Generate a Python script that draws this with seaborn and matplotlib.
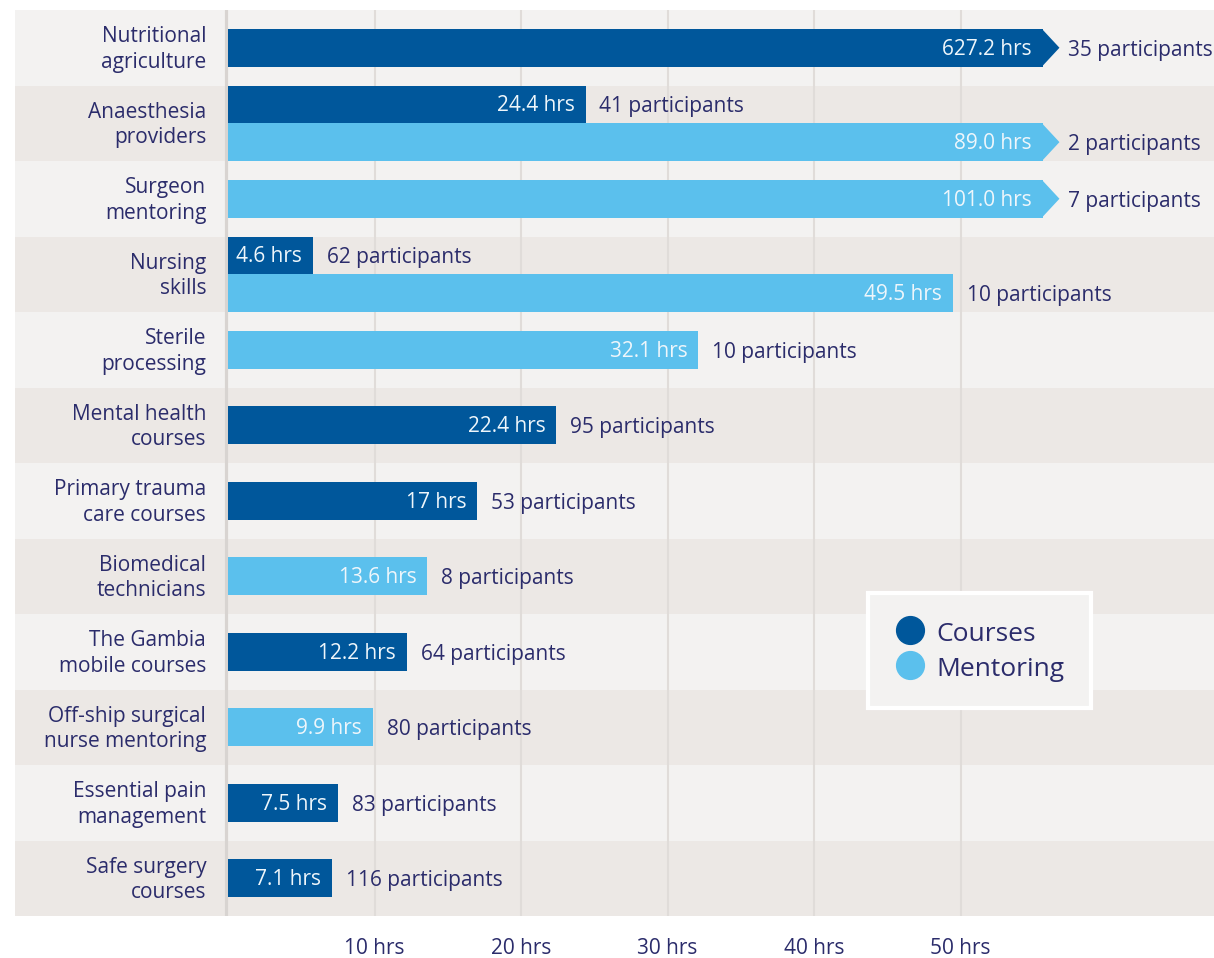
import matplotlib
matplotlib.use("Agg")
import matplotlib.pyplot as plt
import seaborn as sns
import pandas as pd
from matplotlib.patches import Polygon
from matplotlib.lines import Line2D

# ---------------- data ----------------
categories = ["Nutritional\nagriculture", "Anaesthesia\nproviders", "Surgeon\nmentoring",
              "Nursing\nskills", "Sterile\nprocessing", "Mental health\ncourses",
              "Primary trauma\ncare courses", "Biomedical\ntechnicians",
              "The Gambia\nmobile courses", "Off-ship surgical\nnurse mentoring",
              "Essential pain\nmanagement", "Safe surgery\ncourses"]
course_hours = ["627.2", "24.4", None, "4.6", None, "22.4", "17", None, "12.2", None, "7.5", "7.1"]
course_participants = [35, 41, None, 62, None, 95, 53, None, 64, None, 83, 116]
mentoring_hours = [None, "89.0", "101.0", "49.5", "32.1", None, None, "13.6", None, "9.9", None, None]
mentoring_participants = [None, 2, 7, 10, 10, None, None, 8, None, 80, None, None]
series_names = ["Courses", "Mentoring"]
tick_values = [10, 20, 30, 40, 50]
tick_labels = ["10 hrs", "20 hrs", "30 hrs", "40 hrs", "50 hrs"]

# ---------------- style ----------------
DARK = "#00579b"
LIGHT = "#5bc0ed"
NAVY = "#2b2c6b"
BG1 = "#f3f2f1"
BG2 = "#ece8e5"
GRID = "#e0dcd9"
CAP = 55.6        # axis cut-off for very long bars
ARROW = 1.15      # arrow head length (hrs)
MIN_W = 5.8       # minimum drawn width so label fits
XMIN, XMAX = -14.55, 67.3
FS = 15

rows = []
for i, cat in enumerate(categories):
    for name, hrs, parts in ((series_names[0], course_hours[i], course_participants[i]),
                             (series_names[1], mentoring_hours[i], mentoring_participants[i])):
        if hrs is None:
            continue
        v = float(hrs)
        rows.append(dict(category=cat, idx=i, series=name, hours=v, label=hrs,
                         participants=parts, display=max(min(v, CAP), MIN_W),
                         truncated=v > CAP))
df = pd.DataFrame(rows)
counts = df.groupby("category")["series"].transform("count")
df["double"] = counts > 1

sns.set_theme(style="white")
plt.rcParams["font.family"] = ["Open Sans", "DejaVu Sans"]

fig = plt.figure(figsize=(12.14, 9.58), dpi=100)
W, H = 1214, 958
ax = fig.add_axes([15 / W, 1 - 916 / H, 1199 / W, 906 / H])

palette = {series_names[0]: DARK, series_names[1]: LIGHT}
single = df[~df["double"]]
double = df[df["double"]]
sns.barplot(data=single, y="category", x="display", hue="series", hue_order=series_names,
            order=categories, palette=palette, dodge=False, width=0.5, orient="y",
            saturation=1, legend=False, ax=ax, zorder=3, errorbar=None, linewidth=0)
sns.barplot(data=double, y="category", x="display", hue="series", hue_order=series_names,
            order=categories, palette=palette, dodge=True, width=1.0, orient="y",
            saturation=1, legend=False, ax=ax, zorder=3, errorbar=None, linewidth=0)

ax.set_xlim(XMIN, XMAX)
ax.set_ylim(len(categories) - 0.5, -0.5)
ax.set_yticks([])
ax.set_ylabel("")
ax.set_xlabel("")
for s in ax.spines.values():
    s.set_visible(False)

# row bands
for i in range(len(categories)):
    ax.axhspan(i - 0.5, i + 0.5, color=BG1 if i % 2 == 0 else BG2, zorder=0, lw=0)
for t in tick_values:
    ax.axvline(t, color=GRID, lw=1.5, zorder=1)
ax.axvline(-0.12, color="#d8d4d1", lw=2.3, zorder=1)

ax.set_xticks(tick_values)
ax.set_xticklabels(tick_labels, color=NAVY, fontsize=FS)
ax.tick_params(axis="x", length=0, pad=16)

# category labels
for i, cat in enumerate(categories):
    ax.text(-1.5, i + 0.02, cat, ha="right", va="center", color=NAVY, fontsize=FS,
            linespacing=1.28)

# bar annotations
for _, r in df.iterrows():
    if r["double"]:
        y = r["idx"] + (-0.25 if r["series"] == series_names[0] else 0.25)
    else:
        y = r["idx"]
    end = r["display"]
    color = palette[r["series"]]
    if r["truncated"]:
        ax.add_patch(Polygon([(end - 0.05, y - 0.25), (end + ARROW, y), (end - 0.05, y + 0.25)],
                             closed=True, facecolor=color, edgecolor="none", lw=0, zorder=3))
        out_x = end + ARROW + 0.6
    else:
        out_x = end + 0.95
    ax.text(end - 0.75, y + 0.02, f"{r['label']} hrs", ha="right", va="center",
            color="#eef6fb", fontsize=FS, zorder=4)
    ax.text(out_x, y + 0.03, f"{r['participants']} participants", ha="left", va="center",
            color=NAVY, fontsize=FS, zorder=4)

handles = [Line2D([], [], marker="o", ls="", markersize=20, color=palette[n]) for n in series_names]
leg = ax.legend(handles, series_names, loc="upper left", bbox_to_anchor=(0.7115, 0.357),
                frameon=True, fancybox=False, facecolor=BG1, edgecolor="white",
                framealpha=1, fontsize=19, labelcolor=NAVY, borderpad=1.0,
                handletextpad=0.45, labelspacing=0.25, handlelength=1.15,
                handleheight=1.15, borderaxespad=0)
leg.get_frame().set_linewidth(3)
leg.set_zorder(5)

fig.savefig("out.png", dpi=100)
